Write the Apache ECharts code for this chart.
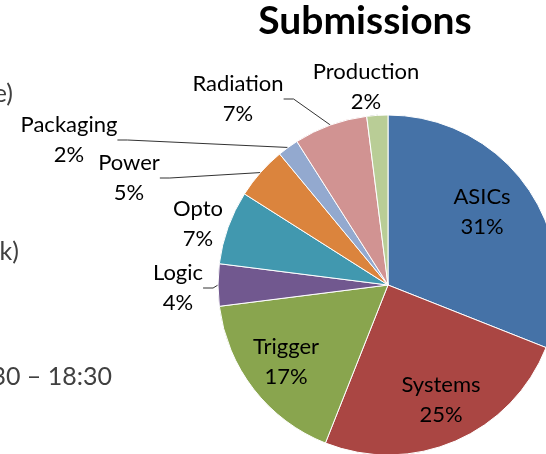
<!DOCTYPE html>
<html>
<head>
<meta charset="utf-8">
<title>Submissions</title>
<script src="https://cdn.jsdelivr.net/npm/echarts@6/dist/echarts.min.js"></script>
<style>
    html, body { margin: 0; padding: 0; background: #ffffff; }
    #chart { width: 546px; height: 454px; }
</style>
</head>
<body>
<div id="chart"></div>
<script>
// 分类 / 百分比
var categories = ['ASICs', 'Systems', 'Trigger', 'Logic', 'Opto', 'Power', 'Packaging', 'Radiation', 'Production'];
var shares = [31, 25, 17, 4, 7, 5, 2, 7, 2];
var colors = ['#4572A7', '#AA4643', '#89A54E', '#71588F', '#4198AF', '#DB843D', '#93A9CF', '#D19392', '#B9CD96'];
// which labels sit inside the slice, which ones get a leader line
var insideLabel = [true, true, true, false, false, false, false, false, false];
var leaderLine = [false, false, false, true, false, true, true, true, true];
// label block centres (Excel style manual placement)
var labelSpots = [
    [482, 212], [441, 400], [286, 362], [178, 288], [198, 224],
    [129, 178], [69, 140], [238, 99], [366, 87]
];

var data = [];
for (var i = 0; i < categories.length; i++) {
    data.push({
        name: categories[i],
        value: shares[i],
        itemStyle: { color: colors[i] },
        label: { position: insideLabel[i] ? 'inside' : 'outside' },
        labelLine: { show: leaderLine[i] }
    });
}

var myChart = echarts.init(document.getElementById('chart'));
myChart.setOption({
    backgroundColor: '#ffffff',
    animation: false,
    title: {
        text: 'Submissions',
        left: 360,
        top: -3,
        textAlign: 'center',
        textStyle: {
            fontFamily: 'Lato',
            fontWeight: 'bold',
            fontSize: 39,
            color: '#000000'
        }
    },
    graphic: [
        { type: 'text', style: { text: 'e)', x: 13, y: 94, align: 'right', verticalAlign: 'middle', font: '25px Lato', fill: '#404040' } },
        { type: 'text', style: { text: 'k)', x: 19, y: 252, align: 'right', verticalAlign: 'middle', font: '25px Lato', fill: '#404040' } },
        { type: 'text', style: { text: '30 \u2013 18:30', x: 112, y: 377, align: 'right', verticalAlign: 'middle', font: '25px Lato', fill: '#404040' } }
    ],
    series: [
        {
            name: 'Submissions',
            type: 'pie',
            center: [388, 285],
            radius: 170,
            startAngle: 90,
            clockwise: true,
            avoidLabelOverlap: false,
            data: data,
            itemStyle: {
                borderColor: '#ffffff',
                borderWidth: 1
            },
            label: {
                formatter: '{b}\n{c}%',
                fontFamily: 'Lato',
                fontSize: 22,
                lineHeight: 30,
                color: '#000000',
                align: 'center'
            },
            labelLine: {
                lineStyle: { color: '#333333', width: 1 },
                length: 10,
                length2: 10
            },
            labelLayout: function (params) {
                var spot = labelSpots[params.dataIndex];
                return {
                    x: spot[0],
                    y: spot[1],
                    align: 'center',
                    verticalAlign: 'middle',
                    hideOverlap: false
                };
            }
        }
    ]
});
</script>
</body>
</html>
